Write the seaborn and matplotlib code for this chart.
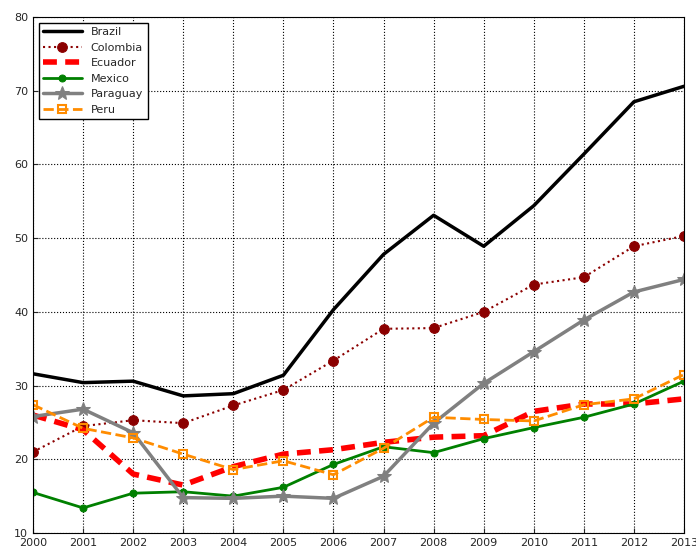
import matplotlib
matplotlib.use('Agg')
import matplotlib.pyplot as plt
import seaborn as sns
import pandas as pd

years = list(range(2000, 2014))
brazil = [31.6, 30.4, 30.6, 28.6, 28.9, 31.4, 40.3, 47.8, 53.1, 48.9, 54.4, 61.4, 68.5, 70.6]
colombia = [21.0, 24.5, 25.3, 24.9, 27.3, 29.4, 33.4, 37.7, 37.8, 40.0, 43.7, 44.7, 48.9, 50.3]
ecuador = [26.0, 24.0, 18.0, 16.5, 19.0, 20.7, 21.3, 22.3, 23.0, 23.2, 26.5, 27.5, 27.5, 28.2]
mexico = [15.5, 13.4, 15.4, 15.6, 15.0, 16.2, 19.3, 21.7, 20.9, 22.8, 24.3, 25.7, 27.5, 30.6]
paraguay = [25.8, 26.8, 23.6, 14.8, 14.7, 15.0, 14.7, 17.7, 24.9, 30.3, 34.6, 38.9, 42.7, 44.4]
peru = [27.4, 24.2, 22.9, 20.7, 18.6, 19.8, 17.9, 21.5, 25.7, 25.4, 25.2, 27.4, 28.2, 31.5]

sns.set_style('ticks')
fig = plt.figure(figsize=(6.96, 5.51), dpi=100)
ax = fig.add_axes([33/696, 18/551, 651/696, 516/551])

styles = [
    ('Brazil', brazil, dict(color='black', lw=2.5, ls='-')),
    ('Colombia', colombia, dict(color='#8b0000', lw=1.5, ls=':', marker='o', ms=7, mec='#8b0000')),
    ('Ecuador', ecuador, dict(color='red', lw=4, ls=(0, (2.5, 1.5)))),
    ('Mexico', mexico, dict(color='green', lw=2, ls='-', marker='o', ms=5, mec='green')),
    ('Paraguay', paraguay, dict(color='gray', lw=2.5, ls='-', marker='*', ms=10, mec='gray')),
    ('Peru', peru, dict(color='darkorange', lw=2, ls='--', marker='s', ms=6, mfc='none',
                        mec='darkorange', mew=1.5)),
]
for name, vals, kw in styles:
    df = pd.DataFrame({'year': years, 'value': vals})
    sns.lineplot(data=df, x='year', y='value', ax=ax, label=name, **kw)

ax.set_xlim(2000, 2013)
ax.set_ylim(10, 80)
ax.set_xticks(years)
ax.set_xlabel('')
ax.set_ylabel('')
ax.tick_params(labelsize=8, direction='in')
ax.grid(True, ls=':', color='black', lw=0.8)
for s in ax.spines.values():
    s.set_visible(True)
    s.set_color('black')
leg = ax.legend(loc='upper left', fontsize=8, fancybox=False, framealpha=1, edgecolor='black', handlelength=3.5)
fig.savefig('out.png', dpi=100)
